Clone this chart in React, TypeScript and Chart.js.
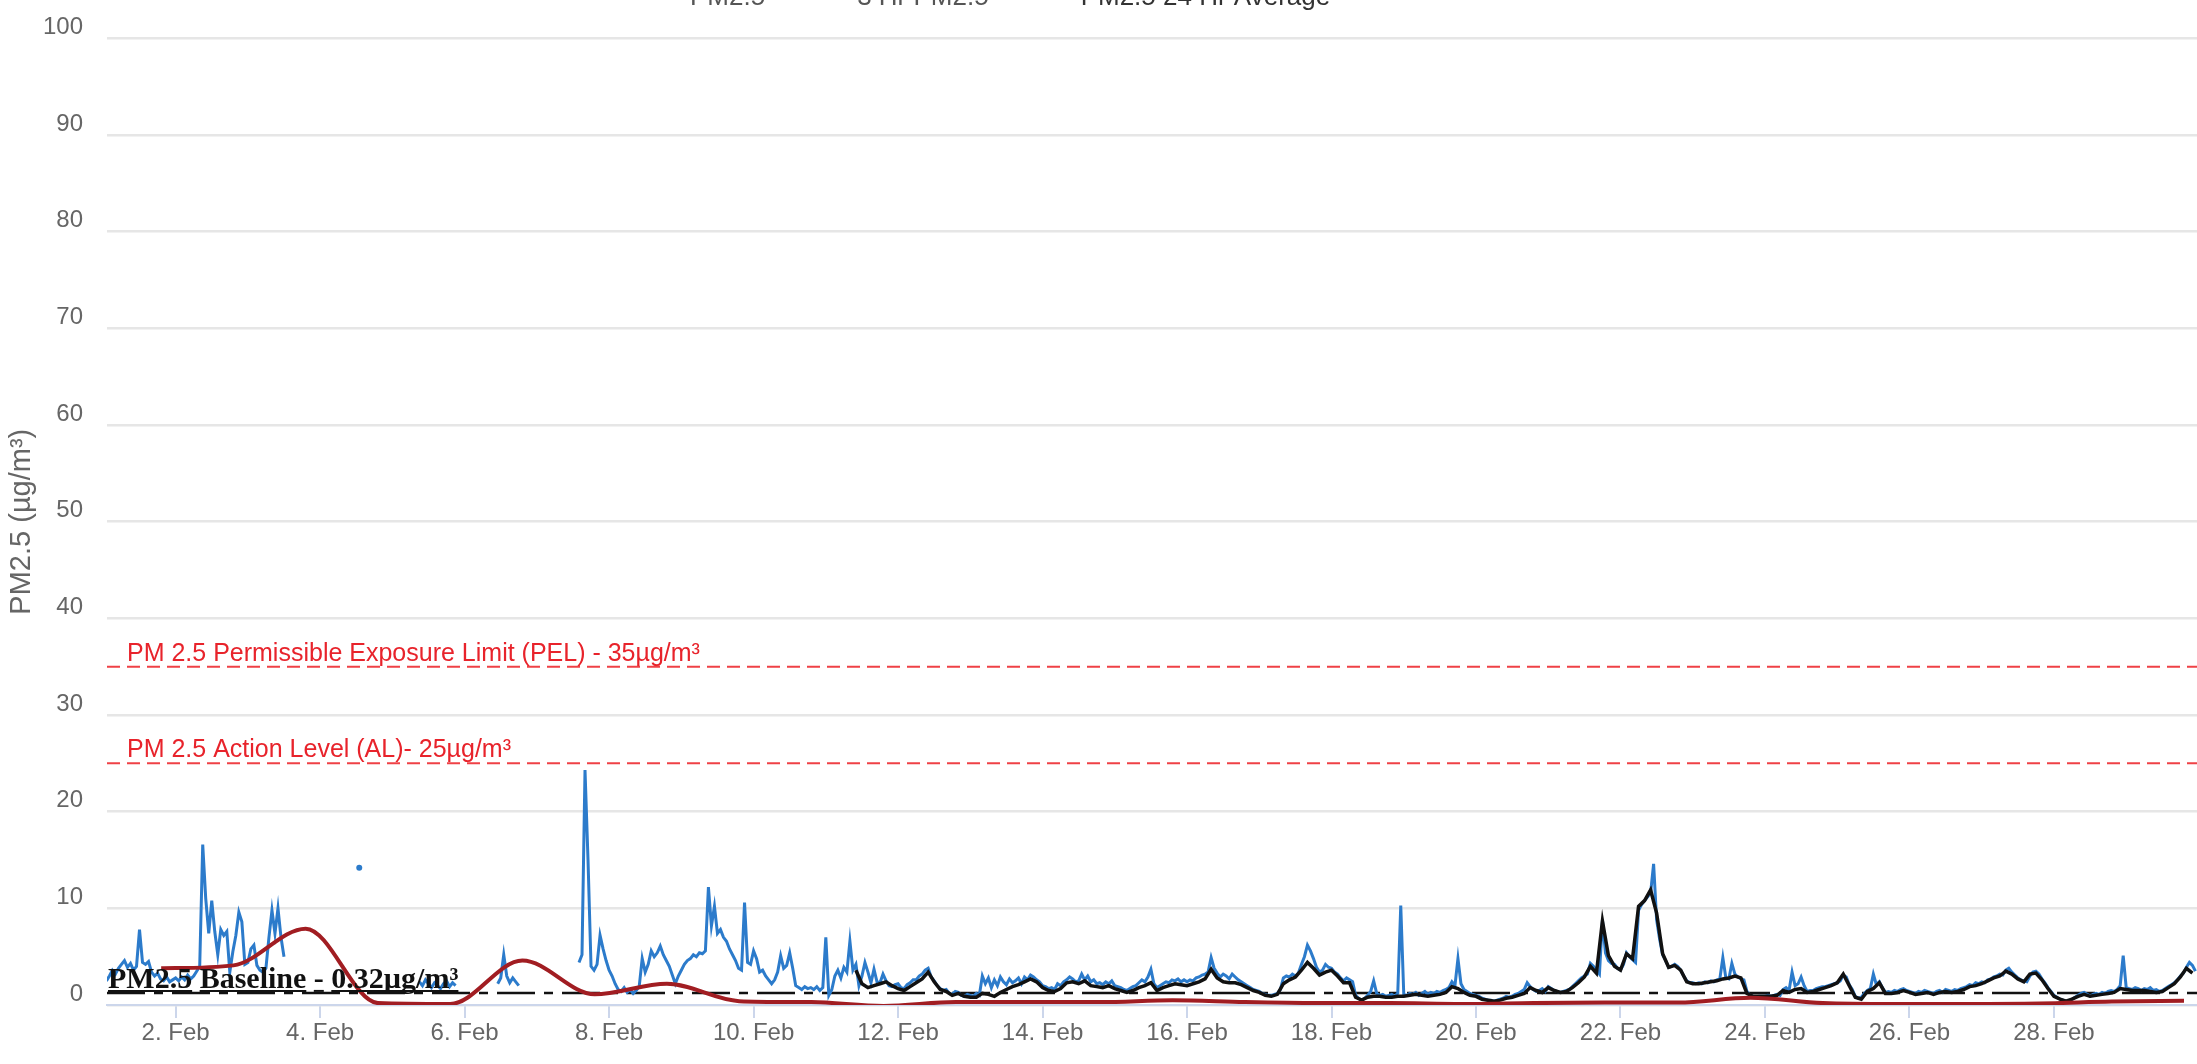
import React, { useEffect, useRef } from 'react';
import { Chart, registerables } from 'chart.js';

Chart.register(...registerables);

const _ = null;

// x axis in days of February (1.0 = 1 Feb 00:00)
const xMinDay = 1.05;
const xMaxDay = 29.98;
const xTickDays = [2, 4, 6, 8, 10, 12, 14, 16, 18, 20, 22, 24, 26, 28];
const monthLabel = 'Feb';
const yMin = 0;
const yMax = 100;
const yStep = 10;

const seriesNames = ['PM2.5', '3 Hr PM2.5', 'PM2.5 24 Hr Average'];
const yAxisTitle = 'PM2.5 (µg/m³)';
const pelLabel = 'PM 2.5 Permissible Exposure Limit (PEL) - 35µg/m³';
const alLabel = 'PM 2.5 Action Level (AL)- 25µg/m³';
const baselineLabel = 'PM2.5 Baseline - 0.32µg/m³';
const pelValue = 35;
const alValue = 25;
const baselineDrawnAt = 1.25;

// PM2.5 raw, hourly from 1 Feb 00:00
const pm25StartDay = 1;
const pm25StepDays = 1 / 24;
const pm25Values: (number | null)[] = [
  2.2, 2.5, 3.0, 3.6, 3.2, 3.8, 4.2, 4.6, 3.9, 4.3, 3.6, 4.0, 7.8, 4.4, 4.2, 4.5, 3.4, 3.0, 3.3, 2.7, 2.5, 2.9, 2.4, 2.6,
  2.8, 2.5, 2.9, 2.6, 3.1, 2.7, 3.0, 3.5, 4.0, 16.6, 11.0, 7.4, 10.8, 7.6, 5.2, 7.8, 7.2, 7.6, 3.4, 5.5, 7.2, 9.6, 8.6, 4.2,
  4.4, 5.8, 6.2, 4.1, 3.6, 3.4, 3.8, 7.0, 9.8, 7.4, 10.0, 7.0, 5.0, _, _, _, _, _, _, _, _, _, _, _,
  _, _, _, _, _, _, _, _, _, _, _, _, _, 14.2, _, _, _, _, _, _, _, _, _, _,
  _, _, _, _, _, _, _, _, _, 2.4, 2.0, 2.6, 2.2, 1.8, 2.3, 2.0, 1.7, 2.2, 2.5, 1.9, 2.3, 2.0, _, _,
  _, _, _, _, _, _, _, _, _, _, _, 2.2, 2.8, 5.2, 3.0, 2.3, 2.8, 2.4, 2.0, _, _, _, _, _,
  _, _, _, _, _, _, _, _, _, _, _, _, _, _, 4.4, 5.2, 24.3, 15.0, 4.0, 3.6, 4.2, 7.2, 5.8, 4.6,
  3.6, 3.0, 2.2, 1.6, 1.4, 1.8, 1.3, 1.6, 1.2, 1.5, 1.9, 4.8, 3.4, 4.2, 5.6, 5.0, 5.4, 6.1, 5.2, 4.6, 4.0, 3.1, 2.2, 3.0,
  3.6, 4.2, 4.6, 4.8, 5.2, 5.0, 5.4, 5.3, 5.6, 12.2, 8.2, 10.2, 7.4, 7.8, 7.0, 6.6, 5.8, 5.2, 4.6, 3.8, 3.6, 10.6, 4.4, 4.2,
  5.6, 4.8, 3.4, 3.6, 3.0, 2.6, 2.2, 2.6, 3.4, 5.1, 3.8, 4.1, 5.4, 3.8, 2.0, 1.8, 1.6, 1.9, 1.7, 1.8, 1.6, 1.9, 1.5, 1.8,
  7.0, 1.0, 1.6, 3.0, 3.6, 2.8, 3.9, 3.4, 6.6, 3.6, 4.2, 2.0, 3.0, 4.4, 3.4, 2.3, 3.7, 2.4, 2.3, 3.2, 2.5, 2.0, 1.9, 2.1,
  2.2, 1.8, 1.7, 2.1, 2.3, 2.6, 2.6, 3.0, 3.2, 3.6, 3.8, 2.9, 2.5, 2.0, 1.7, 1.5, 1.6, 1.2, 1.1, 1.4, 1.3, 1.0, 0.9, 1.1,
  1.0, 0.9, 1.2, 1.0, 3.0, 2.2, 2.8, 1.8, 2.6, 2.0, 2.9, 2.4, 2.1, 2.7, 2.3, 2.5, 2.8, 2.2, 2.9, 2.6, 3.1, 2.9, 2.6, 2.4,
  2.0, 1.9, 1.7, 1.8, 1.6, 2.2, 2.0, 2.4, 2.6, 2.9, 2.7, 2.4, 2.5, 3.2, 2.6, 3.0, 2.4, 2.6, 2.2, 2.3, 2.1, 2.4, 2.2, 2.5,
  2.0, 1.9, 1.8, 1.6, 1.5, 1.7, 1.9, 2.0, 2.3, 2.6, 2.4, 2.9, 3.7, 2.2, 1.8, 2.0, 2.2, 2.4, 2.3, 2.6, 2.5, 2.7, 2.4, 2.6,
  2.4, 2.6, 2.5, 2.8, 2.9, 3.1, 3.2, 3.4, 4.9, 3.8, 3.3, 2.9, 3.2, 3.0, 2.7, 3.2, 2.9, 2.6, 2.4, 2.2, 2.0, 1.8, 1.6, 1.5,
  1.4, 1.2, 1.1, 1.0, 1.0, 1.1, 1.2, 1.6, 2.8, 3.0, 2.9, 3.2, 3.0, 3.3, 4.2, 5.0, 6.2, 5.6, 4.8, 3.9, 3.4, 3.6, 4.2, 3.9,
  3.8, 3.4, 3.2, 2.8, 2.5, 2.8, 2.6, 2.4, 1.0, 0.7, 0.5, 0.7, 1.0, 1.4, 2.5, 1.2, 1.0, 1.1, 0.9, 1.0, 1.1, 0.9, 1.2, 10.3,
  1.1, 1.0, 1.2, 1.1, 1.3, 1.0, 1.2, 1.4, 1.1, 1.3, 1.2, 1.4, 1.3, 1.5, 1.6, 1.8, 2.4, 2.0, 4.8, 2.2, 1.6, 1.4, 1.2, 1.1,
  1.0, 0.9, 0.7, 0.6, 0.5, 0.5, 0.4, 0.5, 0.6, 0.7, 0.9, 0.8, 0.9, 1.1, 1.2, 1.4, 1.6, 2.3, 1.9, 1.6, 1.4, 1.5, 1.7, 1.4,
  1.9, 1.7, 1.5, 1.4, 1.3, 1.4, 1.5, 1.6, 1.9, 2.2, 2.5, 2.8, 3.0, 3.2, 4.3, 4.0, 3.6, 3.2, 8.8, 5.4, 4.6, 4.3, 4.2, 3.8,
  3.6, 4.2, 5.4, 5.0, 4.7, 4.4, 9.8, 10.4, 10.8, 11.2, 11.6, 14.6, 8.8, 6.8, 5.2, 4.6, 3.9, 4.0, 4.2, 4.0, 3.6, 3.0, 2.5, 2.3,
  2.3, 2.2, 2.3, 2.2, 2.4, 2.3, 2.5, 2.4, 2.6, 2.7, 4.9, 2.8, 2.7, 4.3, 3.2, 2.9, 2.7, 2.6, 1.4, 1.0, 0.9, 0.8, 0.9, 0.9,
  0.9, 1.0, 0.9, 1.0, 1.1, 1.0, 1.6, 1.8, 1.5, 3.4, 2.0, 2.2, 2.9, 2.0, 1.4, 1.5, 1.5, 1.7, 1.8, 1.9, 1.9, 2.0, 2.1, 2.2,
  2.3, 2.5, 3.1, 2.9, 2.1, 1.6, 0.9, 0.7, 0.8, 1.2, 1.5, 1.7, 3.2, 2.1, 2.4, 1.8, 1.3, 1.4, 1.3, 1.5, 1.4, 1.6, 1.7, 1.5,
  1.4, 1.3, 1.2, 1.4, 1.3, 1.5, 1.4, 1.3, 1.2, 1.4, 1.5, 1.3, 1.6, 1.5, 1.4, 1.6, 1.5, 1.7, 1.8, 1.9, 2.1, 2.0, 2.3, 2.2,
  2.4, 2.3, 2.6, 2.7, 2.9, 3.0, 3.2, 3.1, 3.6, 3.8, 3.4, 3.1, 2.8, 2.6, 2.5, 2.4, 3.0, 3.4, 3.5, 3.2, 2.7, 2.3, 1.8, 1.4,
  1.0, 0.8, 0.6, 0.5, 0.4, 0.4, 0.6, 0.8, 1.0, 1.2, 1.3, 1.1, 0.9, 1.1, 1.2, 1.1, 1.3, 1.2, 1.4, 1.5, 1.4, 1.6, 2.0, 5.1,
  1.8, 1.7, 1.6, 1.8, 1.7, 1.5, 1.7, 1.6, 1.8, 1.5, 1.6, 1.4, 1.5, 1.7, 1.9, 2.1, 2.3, 2.6, 3.0, 3.3, 3.9, 4.4, 4.1, 3.5,
];

// 3 Hr PM2.5, every 2 hours from 11 Feb 10:00
const avg3hStartDay = 11 + 10 / 24;
const avg3hStepDays = 2 / 24;
const avg3hValues: number[] = [
  3.6, 2.2, 1.8, 2.0, 2.2, 2.4, 2.0,
  1.7, 1.5, 1.9, 2.3, 2.7, 3.4, 2.4, 1.6, 1.4, 1.0, 1.2, 0.9,
  0.8, 0.8, 1.2, 1.1, 0.9, 1.3, 1.6, 1.9, 2.1, 2.4, 2.7, 2.4,
  1.8, 1.5, 1.4, 1.7, 2.3, 2.4, 2.2, 2.5, 2.0, 1.9, 1.8, 2.0,
  1.7, 1.5, 1.3, 1.5, 1.8, 2.0, 2.3, 1.5, 1.8, 2.0, 2.2, 2.1,
  2.0, 2.2, 2.4, 2.7, 3.7, 2.8, 2.4, 2.3, 2.3, 2.1, 1.8, 1.5,
  1.3, 1.0, 0.9, 1.1, 2.2, 2.6, 2.9, 3.6, 4.4, 3.8, 3.1, 3.4,
  3.6, 3.0, 2.3, 2.3, 0.8, 0.5, 0.8, 0.9, 0.9, 0.8, 0.8, 0.9,
  0.9, 1.0, 1.1, 1.0, 0.9, 1.0, 1.1, 1.3, 1.9, 1.7, 1.3, 1.0,
  0.9, 0.6, 0.5, 0.4, 0.5, 0.7, 0.8, 1.0, 1.2, 1.8, 1.5, 1.3,
  1.8, 1.5, 1.3, 1.4, 1.8, 2.3, 2.9, 4.0, 3.3, 8.7, 5.1, 4.0,
  3.6, 5.3, 4.8, 10.2, 10.8, 11.9, 9.5, 5.3, 3.9, 4.1, 3.6, 2.4,
  2.2, 2.2, 2.3, 2.4, 2.5, 2.7, 2.8, 3.0, 2.8, 1.2, 0.9, 0.9,
  0.9, 0.9, 1.0, 1.5, 1.3, 1.6, 1.7, 1.3, 1.4, 1.6, 1.8, 2.0,
  2.3, 3.2, 2.0, 0.8, 0.6, 1.4, 1.7, 2.3, 1.2, 1.2, 1.3, 1.5,
  1.3, 1.1, 1.2, 1.3, 1.1, 1.3, 1.4, 1.3, 1.4, 1.6, 1.9, 2.0,
  2.2, 2.5, 2.8, 3.0, 3.5, 3.2, 2.7, 2.4, 3.2, 3.3, 2.6, 1.7,
  0.9, 0.6, 0.4, 0.6, 0.9, 1.1, 0.9, 1.0, 1.1, 1.2, 1.3, 1.7,
  1.6, 1.5, 1.5, 1.5, 1.4, 1.3, 1.4, 1.8, 2.2, 2.9, 3.8, 3.3,
];

// PM2.5 24 Hr Average, daily from 1 Feb ~19:00
const avg24hStartDay = 1.8;
const avg24hStepDays = 1;
const avg24hValues: number[] = [
  3.8, 4.1, 7.9, 0.2, 0.1, 4.6, 1.1, 2.2, 0.4, 0.3, -0.1, 0.3, 0.3, 0.3, 0.5,
  0.3, 0.2, 0.2, 0.1, 0.2, 0.25, 0.25, 0.75, 0.2, 0.1, 0.1, 0.15, 0.35, 0.45,
];

const COLORS = {
  pm25: '#2c7bcb',
  avg3h: '#111111',
  avg24h: '#a11d22',
  limit: '#ef4146',
  limitText: '#e8232b',
  baseline: '#111111',
  axisText: '#666666',
  grid: '#e6e6e6',
  axisLine: '#ccd6eb',
};
const FONT = '"Liberation Sans", Arial, Helvetica, sans-serif';

const toPoints = (values: (number | null)[], start: number, step: number) =>
  values.map((v, i) => ({ x: start + i * step, y: v }));

const overlayPlugin = {
  id: 'overlayTexts',
  afterDatasetsDraw(chart: any) {
    const { ctx, chartArea, scales } = chart;
    const y = scales.y;
    ctx.save();
    ctx.textAlign = 'left';
    ctx.textBaseline = 'alphabetic';
    ctx.font = `25px ${FONT}`;
    ctx.fillStyle = COLORS.limitText;
    ctx.fillText(pelLabel, chartArea.left + 20, y.getPixelForValue(pelValue) - 6);
    ctx.fillText(alLabel, chartArea.left + 20, y.getPixelForValue(alValue) - 6);

    ctx.font = 'bold 30px "Liberation Serif", "Times New Roman", serif';
    ctx.fillStyle = '#111111';
    const bx = chartArea.left + 1;
    const by = y.getPixelForValue(baselineDrawnAt) - 5;
    ctx.fillText(baselineLabel, bx, by);
    ctx.strokeStyle = '#111111';
    ctx.lineWidth = 2;
    const spaceW = ctx.measureText(' ').width;
    let cx = bx;
    baselineLabel.split(' ').forEach((w) => {
      const ww = ctx.measureText(w).width;
      ctx.beginPath();
      ctx.moveTo(cx, by + 3);
      ctx.lineTo(cx + ww, by + 3);
      ctx.stroke();
      cx += ww + spaceW;
    });
    ctx.restore();
  },
  afterDraw(chart: any) {
    const { ctx } = chart;
    ctx.save();
    ctx.font = `26px ${FONT}`;
    ctx.textBaseline = 'alphabetic';
    ctx.textAlign = 'left';
    const items = [
      { name: seriesNames[0], color: COLORS.pm25, text: '#555555' },
      { name: seriesNames[1], color: COLORS.avg3h, text: '#555555' },
      { name: seriesNames[2], color: COLORS.avg24h, text: '#333333' },
    ];
    let lx = 643;
    const ly = 5;
    items.forEach((it) => {
      ctx.strokeStyle = it.color;
      ctx.lineWidth = 3;
      ctx.beginPath();
      ctx.moveTo(lx, ly - 9);
      ctx.lineTo(lx + 36, ly - 9);
      ctx.stroke();
      ctx.fillStyle = it.text;
      ctx.fillText(it.name, lx + 47, ly);
      lx += 47 + ctx.measureText(it.name).width + 45;
    });
    ctx.restore();
  },
};

export default function App() {
  const canvasRef = useRef<HTMLCanvasElement | null>(null);

  useEffect(() => {
    if (!canvasRef.current) return;
    const isolatedRadius = (c: any) => {
      const d = c.dataset.data;
      const i = c.dataIndex;
      const cur = d[i] && d[i].y;
      if (cur == null) return 0;
      const prev = i > 0 ? d[i - 1].y : null;
      const next = i < d.length - 1 ? d[i + 1].y : null;
      return prev == null && next == null ? 3 : 0;
    };
    const chart = new Chart(canvasRef.current, {
      type: 'line',
      data: {
        datasets: [
          {
            label: seriesNames[2],
            data: toPoints(avg24hValues, avg24hStartDay, avg24hStepDays),
            borderColor: COLORS.avg24h,
            borderWidth: 4,
            pointRadius: 0,
            cubicInterpolationMode: 'monotone',
            order: 0,
          },
          {
            label: seriesNames[1],
            data: toPoints(avg3hValues, avg3hStartDay, avg3hStepDays),
            borderColor: COLORS.avg3h,
            borderWidth: 3.5,
            pointRadius: 0,
            tension: 0,
            order: 1,
          },
          {
            label: seriesNames[0],
            data: toPoints(pm25Values, pm25StartDay, pm25StepDays),
            borderColor: COLORS.pm25,
            backgroundColor: COLORS.pm25,
            borderWidth: 3,
            pointRadius: isolatedRadius,
            pointBorderWidth: 0,
            pointBackgroundColor: COLORS.pm25,
            tension: 0,
            spanGaps: false,
            order: 2,
          },
          {
            label: 'PEL',
            data: [{ x: xMinDay, y: pelValue }, { x: xMaxDay, y: pelValue }],
            borderColor: COLORS.limit,
            borderWidth: 2,
            borderDash: [13, 7],
            pointRadius: 0,
            order: 5,
          },
          {
            label: 'AL',
            data: [{ x: xMinDay, y: alValue }, { x: xMaxDay, y: alValue }],
            borderColor: COLORS.limit,
            borderWidth: 2,
            borderDash: [13, 7],
            pointRadius: 0,
            order: 5,
          },
          {
            label: 'Baseline',
            data: [{ x: xMinDay, y: baselineDrawnAt }, { x: xMaxDay, y: baselineDrawnAt }],
            borderColor: COLORS.baseline,
            borderWidth: 2.5,
            borderDash: [38, 9, 9, 9],
            pointRadius: 0,
            order: 6,
          },
        ] as any,
      },
      options: {
        responsive: false,
        animation: false,
        events: [],
        layout: { padding: { top: 27, left: 0, right: 0, bottom: 0 } },
        plugins: {
          legend: { display: false },
          tooltip: { enabled: false },
        },
        scales: {
          x: {
            type: 'linear',
            min: xMinDay,
            max: xMaxDay,
            afterBuildTicks: (scale: any) => {
              scale.ticks = xTickDays.map((v) => ({ value: v }));
            },
            afterFit: (scale: any) => {
              scale.height = 59;
            },
            ticks: {
              autoSkip: false,
              maxRotation: 0,
              padding: 1,
              color: COLORS.axisText,
              font: { size: 24, family: FONT },
              callback: (v: any) => `${v}. ${monthLabel}`,
            },
            grid: {
              drawOnChartArea: false,
              drawTicks: true,
              tickLength: 13,
              color: COLORS.axisLine,
              lineWidth: 2,
            },
            border: { display: true, color: COLORS.axisLine, width: 2 },
          },
          y: {
            type: 'linear',
            min: yMin,
            max: yMax,
            afterFit: (scale: any) => {
              scale.width = 107;
            },
            ticks: {
              stepSize: yStep,
              padding: 24,
              labelOffset: -11,
              color: COLORS.axisText,
              font: { size: 24, family: FONT },
            },
            grid: {
              color: COLORS.grid,
              lineWidth: 2.5,
              drawTicks: false,
            },
            border: { display: false },
            title: {
              display: true,
              text: yAxisTitle,
              color: COLORS.axisText,
              font: { size: 29, family: FONT },
              padding: { top: 5, bottom: 0 },
            },
          },
        },
      } as any,
      plugins: [overlayPlugin],
    });
    return () => chart.destroy();
  }, []);

  return (
    <div style={{ position: 'absolute', left: 0, top: 0, width: 2197, height: 1064, background: '#ffffff' }}>
      <canvas ref={canvasRef} width={2197} height={1064} style={{ display: 'block' }} />
    </div>
  );
}
